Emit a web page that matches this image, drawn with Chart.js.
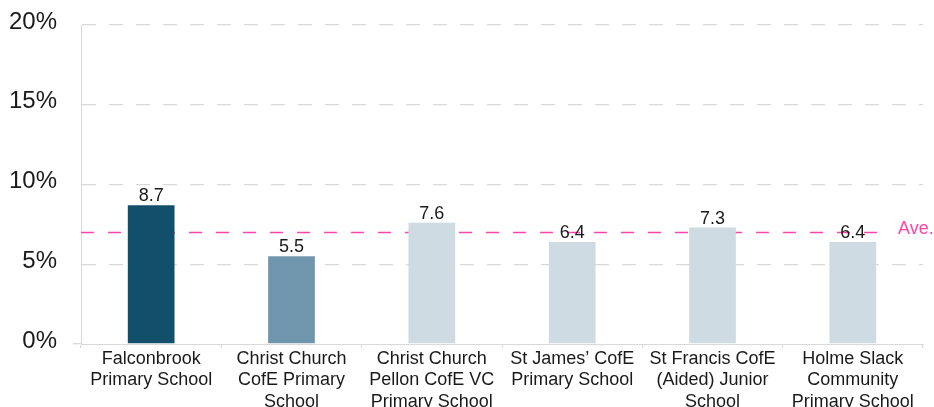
<!DOCTYPE html>
<html>
<head>
<meta charset="utf-8">
<script src="https://cdn.jsdelivr.net/npm/chart.js@4"></script>
<style>
html,body{margin:0;padding:0;background:#fff;}
#wrap{width:934px;height:407px;position:relative;}
</style>
</head>
<body>
<div id="wrap"><canvas id="c" width="934" height="407"></canvas></div>
<script>
const categories = [
  ["Falconbrook","Primary School"],
  ["Christ Church","CofE Primary","School"],
  ["Christ Church","Pellon CofE VC","Primary School"],
  ["St James\u2019 CofE","Primary School"],
  ["St Francis CofE","(Aided) Junior","School"],
  ["Holme Slack","Community","Primary School"]
];
const values = [8.7, 5.5, 7.6, 6.4, 7.3, 6.4];
const barColors = ["#124f6a", "#7096ae", "#cedbe3", "#cedbe3", "#cedbe3", "#cedbe3"];
const averageValue = 7.0;
const averageLabel = "Ave.";
const yTicks = [0, 5, 10, 15, 20];

const FONT = "'Liberation Sans', Arial, sans-serif";
const PINK = "#ff46a6";

const avePlugin = {
  id: 'ave',
  beforeDatasetsDraw(chart) {
    const {ctx, chartArea, scales} = chart;
    const y = Math.round(scales.y.getPixelForValue(averageValue)) + 0.5;
    ctx.save();
    ctx.strokeStyle = PINK;
    ctx.lineWidth = 1.3;
    ctx.setLineDash([13, 14]);
    ctx.beginPath();
    ctx.moveTo(chartArea.left, y);
    ctx.lineTo(chartArea.right - 34, y);
    ctx.stroke();
    ctx.setLineDash([]);
    ctx.fillStyle = PINK;
    ctx.font = "18px " + FONT;
    ctx.textAlign = 'left';
    ctx.textBaseline = 'alphabetic';
    ctx.fillText(averageLabel, chartArea.right - 25, y + 1);
    ctx.restore();
  }
};

const labelPlugin = {
  id: 'vals',
  afterDatasetsDraw(chart) {
    const {ctx} = chart;
    const meta = chart.getDatasetMeta(0);
    ctx.save();
    ctx.fillStyle = "#1a1a1a";
    ctx.font = "18px " + FONT;
    ctx.textAlign = 'center';
    ctx.textBaseline = 'alphabetic';
    meta.data.forEach((bar, i) => {
      ctx.fillText(values[i].toFixed(1), bar.x, bar.y - 4);
    });
    ctx.restore();
  }
};

new Chart(document.getElementById('c'), {
  type: 'bar',
  plugins: [avePlugin, labelPlugin],
  data: {
    labels: categories,
    datasets: [{
      data: values,
      backgroundColor: barColors,
      borderWidth: 0,
      categoryPercentage: 1,
      barPercentage: 0.333
    }]
  },
  options: {
    responsive: false,
    animation: false,
    devicePixelRatio: 1,
    layout: { padding: { top: 25, right: 11, left: 0, bottom: 0 } },
    plugins: { legend: { display: false }, tooltip: { enabled: false } },
    scales: {
      x: {
        afterFit(s) { s.height = 63; s.paddingLeft = 0; s.paddingRight = 0; },
        grid: { display: true, drawOnChartArea: false, drawTicks: true, tickLength: 4, color: "#d9d9d9", offset: true },
        border: { display: true, color: "#d9d9d9", width: 1 },
        ticks: {
          color: "#1a1a1a",
          font: { size: 18, family: FONT, lineHeight: 1.2 },
          padding: 0,
          maxRotation: 0,
          autoSkip: false
        }
      },
      y: {
        min: 0, max: 20,
        afterFit(s) { s.width = 81; s.paddingTop = 0; s.paddingBottom = 0; },
        afterBuildTicks(s) { s.ticks = yTicks.map(v => ({ value: v })); },
        grid: {
          color: c => (c.tick && c.tick.value === 0) ? "rgba(0,0,0,0)" : "#d9d9d9",
          drawTicks: true,
          tickLength: 8,
          tickColor: c => (c.tick && c.tick.value === 0) ? "#d9d9d9" : "rgba(0,0,0,0)",
          tickBorderDash: [],
          lineWidth: 1.3
        },
        border: { display: true, color: "#d9d9d9", dash: [14, 13], width: 1 },
        ticks: {
          color: "#1a1a1a",
          font: { size: 24, family: FONT },
          padding: 16,
          labelOffset: -3,
          callback: v => v + '%'
        }
      }
    }
  }
});
</script>
</body>
</html>
